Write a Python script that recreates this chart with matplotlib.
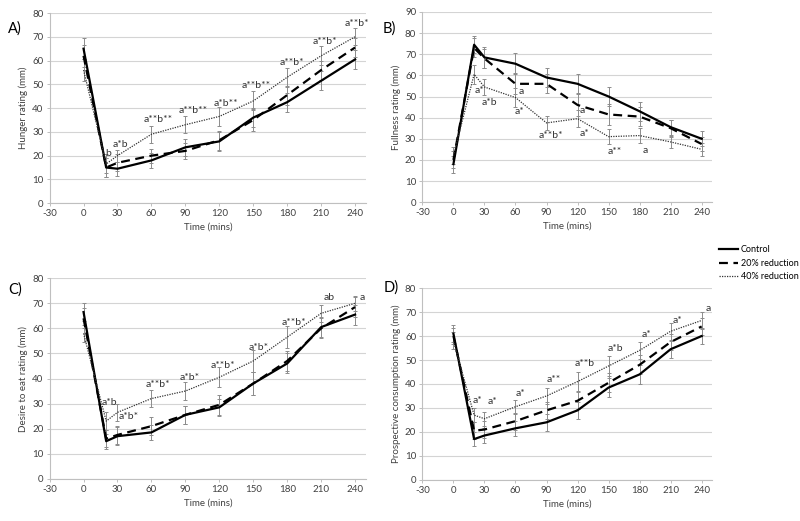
import numpy as np
import matplotlib
matplotlib.use("Agg")
import matplotlib.pyplot as pl

pl.rcParams['font.family'] = ['Lato', 'DejaVu Sans']
pl.rcParams['font.size'] = 6.5
pl.rcParams['axes.unicode_minus'] = False

# time points (mins)
time = [0, 20, 30, 60, 90, 120, 150, 180, 210, 240]

# A) hunger
hun_ctrl = [65, 15, 14.5, 18, 23.5, 26, 36, 42.5, 51.5, 60.5]
hun_20 = [62, 15, 17, 20, 22, 26.5, 35, 45.5, 56, 65.5]
hun_40 = [56, 16.5, 20, 29, 33, 36.5, 43, 53, 62, 70]
hun_ctrl_e = [4.5, 4, 3, 3, 3.5, 4, 4, 4, 4, 4]
hun_20_e = [4.5, 4, 3.5, 3, 3.5, 4, 4.5, 4, 4, 4]
hun_40_e = [4.5, 4, 2.5, 3.5, 3.5, 4, 4, 4, 4, 3.5]

# B) fullness
ful_ctrl = [18, 74.5, 68.5, 65.5, 59, 56, 50, 43, 35.5, 30]
ful_20 = [20, 73, 68, 56, 56, 46, 41.5, 40.5, 35, 27.5]
ful_40 = [22, 60.5, 54.5, 49.5, 37.5, 39.5, 31, 31.5, 28.5, 25]
ful_ctrl_e = [4, 4, 5, 5, 4.5, 4.5, 4.5, 4.5, 3.5, 3.5]
ful_20_e = [4, 4.5, 4.5, 5, 4.5, 5, 5, 4.5, 4, 3.5]
ful_40_e = [4, 4.5, 4, 4.5, 3.5, 4, 3.5, 3.5, 3, 3]

# C) desire to eat
des_ctrl = [66.5, 15, 17, 18.5, 25.5, 28.5, 38, 46, 60.5, 65.5]
des_20 = [64, 16, 17.5, 21, 25.5, 29.5, 38, 47, 60, 68.5]
des_40 = [58, 23, 26.5, 32, 35, 40.5, 47, 56.5, 66, 70]
des_ctrl_e = [3.5, 3, 3.5, 3, 3.5, 3.5, 4.5, 4, 4, 4]
des_20_e = [4, 3.5, 3.5, 3.5, 3.5, 4, 4.5, 4, 4, 4]
des_40_e = [3.5, 3.5, 3.5, 3.5, 3.5, 4, 4.5, 4.5, 3.5, 3]

# D) prospective consumption
pro_ctrl = [61, 17, 18.5, 21.5, 24, 29, 38.5, 44, 54.5, 60]
pro_20 = [60, 20.5, 21, 24.5, 29, 33, 40.5, 48, 57.5, 64]
pro_40 = [58, 27, 25.5, 30.5, 35, 41, 47.5, 54, 62, 66.5]
pro_ctrl_e = [3.5, 3, 3, 3, 3.5, 3.5, 4, 4, 3.5, 3.5]
pro_20_e = [3.5, 3.5, 3.5, 3.5, 3.5, 3.5, 4, 4, 3.5, 3.5]
pro_40_e = [3.5, 3, 3, 3, 3.5, 4, 4, 3.5, 3.5, 3.5]

# significance labels (time, rating, text)
ann_hun = [(22, 21, "b"), (33, 24.5, "a*b"), (66, 35, "a**b**"), (97, 39, "a**b**"),
           (126, 42, "a*b**"), (153, 49.5, "a**b**"), (184, 59, "a**b*"),
           (213, 68, "a**b*"), (242, 75.5, "a**b*")]
ann_ful = [(25, 52.7, "a*"), (35, 47.2, "a*b"), (66, 52.4, "a"), (64, 43, "a*"),
           (94, 31.4, "a**b*"), (125, 43.5, "a"), (127, 32.3, "a*"),
           (156, 24, "a**"), (185, 24.3, "a")]
ann_des = [(23, 30.6, "a*b"), (40, 24.7, "a*b*"), (66, 37.5, "a**b*"), (94, 40.3, "a*b*"),
           (123, 45.2, "a**b*"), (155, 52.5, "a*b*"), (186, 62.5, "a**b*"),
           (217, 72.3, "ab"), (246, 72.3, "a")]
ann_pro = [(23, 33.2, "a*"), (38, 32.7, "a*"), (65, 35.9, "a*"), (97, 41.7, "a**"),
           (127, 48.4, "a**b"), (157, 55, "a*b"), (187, 60.5, "a*"),
           (217, 66.5, "a*"), (246, 71.4, "a")]

panels = [
    ("A)", "Hunger rating (mm)", [hun_ctrl, hun_20, hun_40], [hun_ctrl_e, hun_20_e, hun_40_e], ann_hun, 80),
    ("B)", "Fullness rating (mm)", [ful_ctrl, ful_20, ful_40], [ful_ctrl_e, ful_20_e, ful_40_e], ann_ful, 90),
    ("C)", "Desire to eat rating (mm)", [des_ctrl, des_20, des_40], [des_ctrl_e, des_20_e, des_40_e], ann_des, 80),
    ("D)", "Prospective consumption rating (mm)", [pro_ctrl, pro_20, pro_40], [pro_ctrl_e, pro_20_e, pro_40_e], ann_pro, 80),
]

# axes boxes in figure fraction
boxes = [[0.062, 0.610, 0.396, 0.365],
         [0.528, 0.612, 0.362, 0.365],
         [0.062, 0.081, 0.396, 0.385],
         [0.528, 0.079, 0.362, 0.368]]
label_pos = [(0.010, 0.937), (0.478, 0.938), (0.010, 0.437), (0.480, 0.440)]

styles = [dict(color="black", lw=1.6, ls="-", label="Control"),
          dict(color="black", lw=1.6, ls=(0, (4, 2.5)), label="20% reduction"),
          dict(color="#333333", lw=0.9, ls=(0, (1, 1)), label="40% reduction")]

fig = pl.figure(figsize=(8, 5.21), dpi=100)
handles = []
for i, (tag, ylab, series, errs, anns, ymax) in enumerate(panels):
    ax = fig.add_axes(boxes[i])
    for s, e, st in zip(series, errs, styles):
        ax.errorbar(time, s, yerr=e, fmt="none", ecolor="#8c8c8c", elinewidth=0.7,
                    capsize=1.5, capthick=0.7, zorder=2)
    for s, st in zip(series, styles):
        ln, = ax.plot(time, s, zorder=3, **st)
        if i == 0:
            handles.append(ln)
    for t, y, txt in anns:
        ax.text(t, y, txt, ha="center", va="center", fontsize=7.5, color="#333333")
    ax.set_xlim(-30, 250)
    ax.set_ylim(0, ymax)
    ax.set_xticks(np.arange(-30, 241, 30))
    ax.set_yticks(np.arange(0, ymax + 1, 10))
    ax.yaxis.grid(True, color="#d4d4d4", lw=0.8)
    ax.set_axisbelow(True)
    for sp in ["top", "right"]:
        ax.spines[sp].set_visible(False)
    for sp in ["left", "bottom"]:
        ax.spines[sp].set_color("#bfbfbf")
        ax.spines[sp].set_linewidth(0.8)
    ax.tick_params(axis="both", length=2.5, width=0.7, color="#bfbfbf",
                   labelcolor="#404040", labelsize=7, pad=2)
    ax.set_xlabel("Time (mins)", fontsize=7, color="#404040", labelpad=3)
    ax.set_ylabel(ylab, fontsize=7, color="#404040", labelpad=3)
    fig.text(label_pos[i][0], label_pos[i][1], tag, fontsize=10.5, color="black")

fig.legend(handles=handles, loc="upper left", bbox_to_anchor=(0.888, 0.545),
           frameon=False, fontsize=6.5, handlelength=2.2, handletextpad=0.3,
           labelspacing=0.5)

pl.savefig("out.png", dpi=100)
